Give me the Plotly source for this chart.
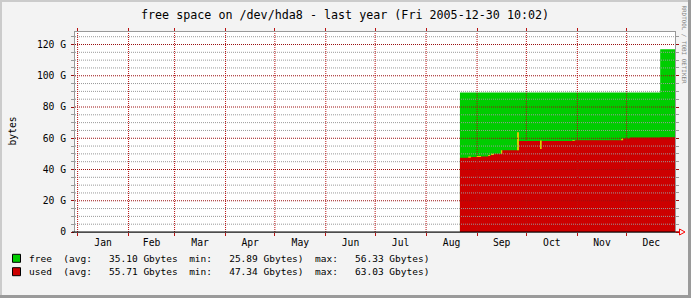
import plotly.graph_objects as go
import pandas as pd

# ---------------- data ----------------
title_text = "free space on /dev/hda8 - last year (Fri 2005-12-30 10:02)"
x_start = "2004-12-30 10:02"
x_end = "2005-12-30 10:02"

seg_dates = ["2005-08-21 14:00", "2005-08-26 16:00", "2005-08-31 19:00", "2005-09-07 19:00",
             "2005-09-09 12:00", "2005-09-11 07:00", "2005-09-16 05:00", "2005-09-26 12:00",
             "2005-10-15 12:00", "2005-10-15 13:00",
             "2005-10-17 07:00", "2005-10-30 17:00", "2005-11-28 14:00", "2005-12-03 02:00",
             "2005-12-21 10:00", "2005-12-30 10:02"]
used_gb = [47.6, 48.0, 48.3, 49.0, 49.5, 50.1, 52.3, 58.2, 58.2, None,
           58.2, 58.7, 59.8, 60.5, 60.6, 60.6]
total_gb = [89.3, 89.3, 89.3, 89.3, 89.3, 89.3, 89.3, 89.3, 89.3, None,
            89.3, 89.3, 89.3, 89.3, 116.9, 116.9]

spike_start = ["2005-08-26 16:00", "2005-08-31 19:00", "2005-09-07 19:00", "2005-09-09 12:00",
               "2005-09-15 12:00", "2005-09-25 07:00", "2005-10-09 07:00", "2005-10-29 00:00",
               "2005-11-27 16:00"]
spike_hours = [38, 62, 25, 44, 20, 29, 25, 34, 29]
spike_low = [47.6, 48.0, 48.6, 49.3, 50.0, 52.3, 53.1, 58.2, 58.8]
spike_high = [48.4, 48.6, 49.3, 50.1, 52.4, 63.8, 58.5, 58.8, 59.8]

month_starts = ["2005-%02d-01" % m for m in range(1, 13)]
y_major = [0, 20, 40, 60, 80, 100, 120]
y_major_labels = ["0", "20 G", "40 G", "60 G", "80 G", "100 G", "120 G"]
y_minor = [v for v in range(5, 130, 5) if v % 20]

legend_names = ["free", "used"]
legend_colors = ["#00CC00", "#CC0000"]
legend_avg = [35.10, 55.71]
legend_min = [25.89, 47.34]
legend_max = [56.33, 63.03]

# ---------------- geometry helpers ----------------
W, H = 691, 298
L, T, PW, PH = 75, 32, 600, 200


def px(x):
    return (x - L) / PW


def py(y):
    return (T + PH - y) / PH


GREEN = "#00CC00"
RED = "#CC0000"
YELLOW = "#D8CC00"
MGRID = "#9A1010"
VGRID = "#B81010"
GRID = "#999999"
FONT = "DejaVu Sans Mono"

fig = go.Figure()
fig.add_trace(go.Scatter(x=seg_dates, y=total_gb, mode="lines", line=dict(shape="hv", width=0, color=GREEN),
                         fill="tozeroy", fillcolor=GREEN, connectgaps=False, hoverinfo="skip"))
fig.add_trace(go.Scatter(x=seg_dates, y=used_gb, mode="lines", line=dict(shape="hv", width=0, color=RED),
                         fill="tozeroy", fillcolor=RED, connectgaps=False, hoverinfo="skip"))

# yellow spikes as small filled rectangles
s_start = pd.to_datetime(spike_start)
s_end = s_start + pd.to_timedelta(spike_hours, unit="h")
sx, sy = [], []
for a, b, lo, hi in zip(s_start, s_end, spike_low, spike_high):
    sx += [a, a, b, b, a, None]
    sy += [lo, hi, hi, lo, lo, None]
fig.add_trace(go.Scatter(x=sx, y=sy, mode="lines", line=dict(width=0, color=YELLOW), fill="toself",
                         fillcolor=YELLOW, connectgaps=False, hoverinfo="skip"))

shapes = []
# grid drawn above the areas (as rrdtool does)
for v in y_minor:
    shapes.append(dict(type="line", xref="paper", yref="y", x0=0, x1=1, y0=v, y1=v,
                       line=dict(color=GRID, width=1, dash="1px,1px"), layer="above"))
for v in y_major[1:]:
    shapes.append(dict(type="line", xref="paper", yref="y", x0=0, x1=1, y0=v, y1=v,
                       line=dict(color=MGRID, width=1, dash="1px,1px"), layer="above"))
for m in month_starts:
    shapes.append(dict(type="line", xref="x", yref="paper", x0=m, x1=m, y0=0, y1=1,
                       line=dict(color=VGRID, width=1, dash="1px,1px"), layer="above"))
# x axis line and arrow
shapes.append(dict(type="line", xref="paper", yref="paper", x0=px(72), x1=px(679), y0=0, y1=0,
                   line=dict(color="black", width=1), layer="above"))
shapes.append(dict(type="line", xref="paper", yref="paper", x0=px(675.5), x1=px(679.5), y0=0, y1=0,
                   line=dict(color="red", width=1), layer="above"))
shapes.append(dict(type="path", xref="paper", yref="paper",
                   path="M %f,%f L %f,%f L %f,%f Z" % (px(679.5), py(229), px(679.5), py(235), px(685), py(232)),
                   line=dict(color="red", width=1), fillcolor="rgba(0,0,0,0)", layer="above"))
# outer 3D frame
shapes.append(dict(type="rect", xref="paper", yref="paper", x0=px(0), x1=px(2), y0=py(0), y1=py(298),
                   line=dict(width=0), fillcolor="#CBCBCB", layer="above"))
shapes.append(dict(type="rect", xref="paper", yref="paper", x0=px(0), x1=px(691), y0=py(0), y1=py(2),
                   line=dict(width=0), fillcolor="#CBCBCB", layer="above"))
shapes.append(dict(type="rect", xref="paper", yref="paper", x0=px(688), x1=px(691), y0=py(0), y1=py(298),
                   line=dict(width=0), fillcolor="#9A9A9A", layer="above"))
shapes.append(dict(type="rect", xref="paper", yref="paper", x0=px(0), x1=px(691), y0=py(295), y1=py(298),
                   line=dict(width=0), fillcolor="#9A9A9A", layer="above"))

annotations = [
    dict(text=title_text.replace(" ", "\u00a0"), x=px(344.5), y=py(15.5), xref="paper", yref="paper",
         showarrow=False, xanchor="center", yanchor="middle", font=dict(family=FONT, size=11.7, color="black")),
    dict(text="bytes", x=px(12), y=py(131.5), xref="paper", yref="paper", textangle=-90,
         showarrow=False, xanchor="center", yanchor="middle", font=dict(family=FONT, size=9.7, color="black")),
    dict(text="RRDTOOL / TOBI OETIKER".replace(" ", "\u00a0"), x=px(683.5), y=py(44), xref="paper",
         yref="paper", textangle=90, showarrow=False, xanchor="center", yanchor="middle",
         font=dict(family=FONT, size=5.9, color="#808080")),
]
row_y = [258.3, 271.7]
for i, name in enumerate(legend_names):
    txt = "%-4s  (avg:   %5.2f Gbytes  min:   %5.2f Gbytes)  max:   %5.2f Gbytes)" % (
        name, legend_avg[i], legend_min[i], legend_max[i])
    annotations.append(dict(text=txt.replace(" ", "\u00a0"), x=px(26.5), y=py(row_y[i]), xref="paper",
                            yref="paper", showarrow=False, xanchor="left", yanchor="middle",
                            font=dict(family=FONT, size=9.5, color="black")))
    shapes.append(dict(type="rect", xref="paper", yref="paper", x0=px(12.5), x1=px(20.5),
                       y0=py(row_y[i] - 4), y1=py(row_y[i] + 4),
                       line=dict(color="black", width=1), fillcolor=legend_colors[i], layer="above"))

fig.update_layout(
    width=W, height=H, margin=dict(l=L, r=W - L - PW, t=T, b=H - T - PH, pad=0),
    paper_bgcolor="#F3F3F3", plot_bgcolor="white", showlegend=False,
    shapes=shapes, annotations=annotations,
    xaxis=dict(type="date", range=[x_start, x_end], tick0="2005-01-01", dtick="M1", tickformat="%b",
               ticklabelmode="period", ticks="outside", ticklen=3, tickwidth=1, tickcolor=VGRID,
               ticklabelstandoff=-2,
               showgrid=False, zeroline=False, showline=True, linecolor=GRID, linewidth=1, mirror="allticks",
               tickfont=dict(family=FONT, size=9.7, color="black"), fixedrange=True),
    yaxis=dict(range=[0, 128], tickmode="array", tickvals=y_major, ticktext=y_major_labels,
               ticks="outside", ticklen=3, tickwidth=1, tickcolor=MGRID, ticklabelstandoff=3,
               minor=dict(tickvals=y_minor, ticks="outside", ticklen=3, tickcolor=GRID, showgrid=False),
               showgrid=False, zeroline=False, showline=True, linecolor=GRID, linewidth=1, mirror="allticks",
               tickfont=dict(family=FONT, size=9.7, color="black"), fixedrange=True),
)

fig.write_html("out.html")
